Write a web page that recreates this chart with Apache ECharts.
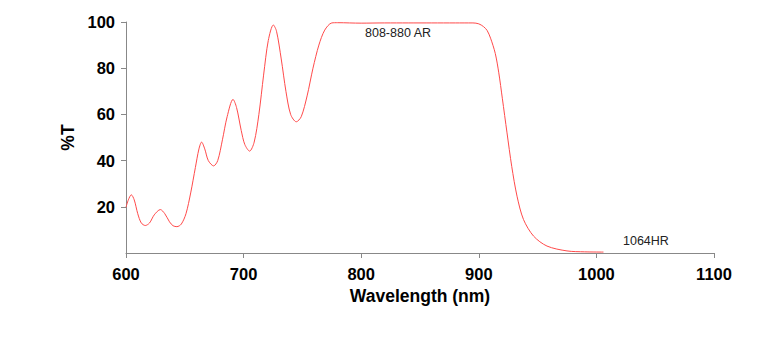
<!DOCTYPE html>
<html>
<head>
<meta charset="utf-8">
<script src="https://cdn.jsdelivr.net/npm/echarts@6/dist/echarts.min.js"></script>
<style>html,body{margin:0;padding:0;background:#fff}#c{width:780px;height:356px}</style>
</head>
<body>
<div id="c"></div>
<script>
const wavelength = [600,602,604.5,607,610,613,616.4,620,624,629.2,633,637,640,643.3,647,651,655,659,662,664.3,667,670,674.5,678,682,686,691,694,698,701,705.1,709,713,717,721,725.3,728,732,736,740,744.8,749,754,759,764,769,775,780,800,820,840,860,880,895,900,904,907,910,914,917,920,924,928,932.5,938,946.6,958,975,990,1006];
const transmission = [19.8,23,25.2,23,17,13,11.9,13,16.5,18.8,17,13.5,11.8,11.4,12.5,17,26,37,45,48,45,40,37.7,40,49,59,66.5,63,53,47,44.1,48,60,77,92,98.7,96,84,70,60,56.8,59,68,80,90,96.5,99.6,99.7,99.5,99.6,99.6,99.6,99.6,99.6,99.2,98,96.4,93,86.4,78,67,52,37.5,24.6,14.5,7.3,3.0,0.9,0.5,0.4];
const xTicks = [600,700,800,900,1000,1100];
const yTicks = [20,40,60,80,100];
const annotations = ['808-880 AR','1064HR'];

const chart = echarts.init(document.getElementById('c'), null, {renderer:'svg'});
const axisCol = '#888';
const font = 'Liberation Sans, Arial, sans-serif';
chart.setOption({
  animation:false,
  backgroundColor:'#fff',
  grid:{left:126,right:66,top:22,bottom:103},
  xAxis:{type:'value',min:600,max:1100,interval:100,
    name:'Wavelength (nm)',nameLocation:'middle',nameGap:28,
    nameTextStyle:{fontFamily:font,fontWeight:'bold',fontSize:17.5,color:'#000'},
    axisLine:{show:true,lineStyle:{color:axisCol,width:1}},
    axisTick:{show:true,length:5,lineStyle:{color:axisCol}},
    axisLabel:{fontFamily:font,fontWeight:'bold',fontSize:16.5,color:'#000',margin:12,
      formatter:v=>xTicks.includes(v)?String(v):''},
    splitLine:{show:false}},
  yAxis:{type:'value',min:0,max:100,interval:20,
    name:'%T',nameLocation:'middle',nameGap:49,nameRotate:90,
    nameTextStyle:{fontFamily:font,fontWeight:'bold',fontSize:17.5,color:'#000'},
    axisLine:{show:true,lineStyle:{color:axisCol,width:1}},
    axisTick:{show:true,length:5,lineStyle:{color:axisCol},
      customValues:yTicks},
    axisLabel:{fontFamily:font,fontWeight:'bold',fontSize:16.5,color:'#000',margin:11,
      customValues:yTicks},
    splitLine:{show:false}},
  series:[{type:'line',data:wavelength.map((w,i)=>[w,transmission[i]]),
    smooth:0.3,symbol:'none',lineStyle:{color:'#ff4a4a',width:1},z:3}],
  graphic:[
    {type:'text',left:365,top:26,style:{text:annotations[0],font:'12.5px '+font,fill:'#222'}},
    {type:'text',left:623,top:234,style:{text:annotations[1],font:'12.5px '+font,fill:'#222'}}
  ]
});
</script>
</body>
</html>
